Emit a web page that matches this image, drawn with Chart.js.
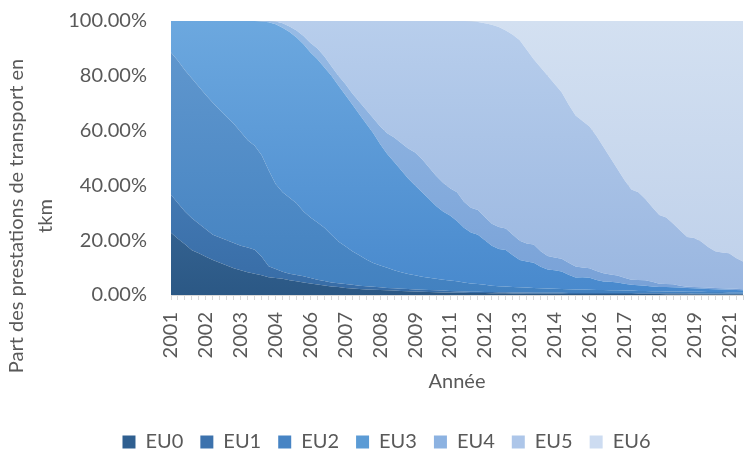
<!DOCTYPE html>
<html lang="fr">
<head>
<meta charset="utf-8">
<title>Part des prestations de transport par norme EU</title>
<script src="https://cdn.jsdelivr.net/npm/chart.js@4/dist/chart.umd.min.js"></script>
<style>
  html, body { margin: 0; padding: 0; background: #fff; }
  #wrap { width: 744px; height: 456px; }
</style>
</head>
<body>
<div id="wrap"><canvas id="chart" width="744" height="456"></canvas></div>
<script>
// 1. données (trimestres 2001 -> 2021, parts en %)
const categories = [
  '2001','2001','2001','2001', '2002','2002','2002','2002', '2003','2003','2003','2003',
  '2004','2004','2004','2004', '2005','2005','2005','2005', '2006','2006','2006','2006',
  '2007','2007','2007','2007', '2008','2008','2008','2008', '2009','2009','2009','2009',
  '2010','2010','2010','2010', '2011','2011','2011','2011', '2012','2012','2012','2012',
  '2013','2013','2013','2013', '2014','2014','2014','2014', '2015','2015','2015','2015',
  '2016','2016','2016','2016', '2017','2017','2017','2017', '2018','2018','2018','2018',
  '2019','2019','2019','2019', '2020','2020','2020','2020', '2021','2021','2021'
];

const seriesNames = ['EU0', 'EU1', 'EU2', 'EU3', 'EU4', 'EU5', 'EU6'];

const eu0 = [
  22.7, 20.5, 18.5, 16.3, 15.2, 14, 12.8, 11.8, 10.8, 9.8,
  9, 8.3, 7.8, 7.2, 6.5, 6.2, 5.9, 5.4, 5, 4.6,
  4.2, 3.8, 3.5, 3.1, 2.9, 2.6, 2.4, 2.2, 2, 1.9,
  1.8, 1.7, 1.6, 1.5, 1.4, 1.3, 1.2, 1.1, 1.0, 0.95,
  0.9, 0.85, 0.8, 0.75, 0.7, 0.7, 0.65, 0.6, 0.6, 0.55,
  0.55, 0.5, 0.5, 0.5, 0.45, 0.45, 0.45, 0.4, 0.4, 0.4,
  0.4, 0.35, 0.35, 0.35, 0.35, 0.35, 0.35, 0.35, 0.35, 0.35,
  0.35, 0.3, 0.3, 0.3, 0.3, 0.3, 0.3, 0.3, 0.3, 0.3,
  0.3, 0.3, 0.3
];
const eu1 = [
  13.9, 13, 12, 11.7, 10.8, 10, 9.2, 9.2, 9.2, 9.2,
  9, 9, 8.7, 6.8, 4, 3.3, 2.6, 2.4, 2.3, 2.2,
  2, 1.8, 1.6, 1.5, 1.4, 1.4, 1.3, 1.2, 1.2, 1.1,
  1, 0.9, 0.9, 0.8, 0.8, 0.7, 0.7, 0.7, 0.7, 0.65,
  0.6, 0.55, 0.5, 0.45, 0.5, 0.4, 0.45, 0.4, 0.4, 0.4,
  0.35, 0.4, 0.35, 0.35, 0.35, 0.35, 0.35, 0.35, 0.35, 0.3,
  0.3, 0.35, 0.35, 0.35, 0.35, 0.35, 0.35, 0.25, 0.25, 0.25,
  0.25, 0.3, 0.3, 0.3, 0.3, 0.2, 0.2, 0.2, 0.2, 0.2,
  0.2, 0.2, 0.2
];
const eu2 = [
  51.9, 52, 51.5, 51, 50, 49, 48.2, 46.5, 45, 43.5,
  41.5, 39.2, 38, 37, 35, 31, 29, 27.7, 26.2, 23.7,
  22.1, 20.9, 19.4, 17.4, 15.2, 13.8, 12.3, 11.1, 9.8, 8.7,
  8, 7.3, 6.5, 6, 5.5, 5.2, 4.8, 4.5, 4.2, 4,
  3.8, 3.6, 3.3, 3, 2.8, 2.6, 2.3, 2.2, 2.1, 1.95,
  1.9, 1.8, 1.75, 1.65, 1.6, 1.5, 1.4, 1.35, 1.25, 1.3,
  1.2, 1.1, 1.1, 1, 1, 0.9, 0.9, 0.9, 0.9, 0.8,
  0.8, 0.7, 0.7, 0.7, 0.6, 0.7, 0.7, 0.6, 0.6, 0.6,
  0.5, 0.5, 0.5
];
const eu3 = [
  11.5, 14.5, 18, 21, 24, 27, 29.8, 32.5, 35, 37.5,
  40.5, 43.5, 45.5, 48.8, 54, 58.3, 60, 60.5, 60.5, 61,
  60.2, 59.5, 58.5, 58, 57, 55.2, 53.5, 51.5, 49.5, 47.3,
  44.2, 41.6, 39.5, 37.2, 34.8, 32.8, 30.8, 28.7, 26.6, 24.9,
  23.7, 22, 19.9, 18.6, 18, 16.3, 14.6, 13.6, 13.3, 11.6,
  10, 9.5, 9.2, 7.8, 6.9, 6.7, 6.4, 5.3, 4.4, 4.5,
  4.4, 3.7, 3.1, 3.1, 2.9, 2.5, 2.1, 2.1, 1.9, 1.7,
  1.5, 1.6, 1.5, 1.4, 1.4, 1.3, 1.2, 1.1, 1, 0.9,
  0.9, 0.8, 0.7
];
const eu4 = [
  0, 0, 0, 0, 0, 0, 0, 0, 0, 0,
  0, 0, 0, 0.2, 0.5, 1, 1.7, 2, 2.5, 3,
  3.5, 4, 4, 3.5, 3.5, 4, 4, 4.5, 5, 5.5,
  6.5, 7.5, 9, 10, 11, 12, 12, 11.5, 11, 10.5,
  10, 10.5, 9.5, 9, 9, 8.5, 8, 8, 7.9, 7.5,
  7, 6.6, 6.6, 5.7, 4.9, 4.7, 4.6, 4.4, 4, 3.5,
  3.5, 3.3, 3, 2.7, 2.5, 2.2, 1.9, 1.9, 2, 1.7,
  1.2, 1.1, 1.1, 0.7, 0.4, 0.4, 0.4, 0.5, 0.5, 0.5,
  0.5, 0.5, 0.4
];
const eu5 = [
  0, 0, 0, 0, 0, 0, 0, 0, 0, 0,
  0, 0, 0, 0, 0, 0.2, 0.8, 2, 3.5, 5.5,
  8, 10, 13, 16.5, 20, 23, 26.5, 29.5, 32.5, 35.5,
  38.5, 41, 42.5, 44.5, 46.5, 48, 50.5, 53.5, 56.5, 59,
  61, 62.5, 66, 68.1, 68.6, 70.7, 72.6, 73, 72.2, 73,
  73.2, 70.7, 67.6, 67, 65.8, 63.3, 60.8, 57.7, 55.1, 53.5,
  51.7, 49.2, 46.1, 42.5, 38.9, 35.7, 32.9, 32, 29.6, 27.2,
  25.1, 24.3, 22.1, 20.1, 18.2, 17.9, 16.7, 14.8, 13.4, 13,
  12.8, 11.2, 10.1
];
const eu6 = [
  0, 0, 0, 0, 0, 0, 0, 0, 0, 0,
  0, 0, 0, 0, 0, 0, 0, 0, 0, 0,
  0, 0, 0, 0, 0, 0, 0, 0, 0, 0,
  0, 0, 0, 0, 0, 0, 0, 0, 0, 0,
  0, 0, 0, 0.1, 0.4, 0.8, 1.4, 2.2, 3.5, 5,
  7, 10.5, 14, 17, 20, 23, 26, 30.5, 34.5, 36.5,
  38.5, 42, 46, 50, 54, 58, 61.5, 62.5, 65, 68,
  70.8, 71.7, 74, 76.5, 78.8, 79.2, 80.5, 82.5, 84, 84.5,
  84.8, 86.5, 87.8
];

const yTicks = [0, 20, 40, 60, 80, 100];
const yTitleLines = ['Part des prestations de transport en', 'tkm'];
const xTitle = 'Année';

// 2. styles
const legendColors = ['#2f5f90', '#3c72ad', '#4784c4', '#5b9bd5', '#8cb2e1', '#adc6e9', '#cddcf1'];
const topColors    = ['#4f80b3', '#568dc6', '#6399cf', '#6ca8df', '#97bbe5', '#b8ceec', '#d3e0f1'];
const bottomColors = ['#2b5885', '#376ca6', '#4281c0', '#4889cd', '#78a1d7', '#99b6e0', '#bed0ea'];
const textColor = '#595959';
const FONT = 'Lato';
const labelEvery = 5;

function areaFill(i) {
  return (ctx) => {
    const area = ctx.chart.chartArea;
    if (!area) return legendColors[i];
    const g = ctx.chart.ctx.createLinearGradient(0, area.top, 0, area.bottom);
    g.addColorStop(0, topColors[i]);
    g.addColorStop(1, bottomColors[i]);
    return g;
  };
}

const seriesValues = [eu0, eu1, eu2, eu3, eu4, eu5, eu6];

const datasets = seriesNames.map((name, i) => ({
  label: name,
  data: seriesValues[i],
  backgroundColor: areaFill(i),
  borderWidth: 0,
  pointRadius: 0,
  tension: 0,
  fill: i === 0 ? 'origin' : '-1'
}));

// titre de l'axe vertical (deux lignes, tourné)
const yTitlePlugin = {
  id: 'yTitle',
  afterDraw(chart) {
    const c = chart.ctx;
    c.save();
    c.fillStyle = textColor;
    c.font = '20px ' + FONT;
    c.textAlign = 'center';
    c.textBaseline = 'middle';
    yTitleLines.forEach((line, i) => {
      c.save();
      c.translate(17 + i * 29, 216);
      c.rotate(-Math.PI / 2);
      c.fillText(line, 0, 0);
      c.restore();
    });
    c.restore();
  }
};

new Chart(document.getElementById('chart'), {
  type: 'line',
  data: { labels: categories, datasets: datasets },
  options: {
    responsive: false,
    devicePixelRatio: 1,
    animation: false,
    layout: { padding: { top: 21, right: 1, left: 30, bottom: -6 } },
    scales: {
      x: {
        type: 'category',
        offset: false,
        grid: { display: true, drawOnChartArea: false, tickLength: 5, color: '#d9d9d9' },
        border: { color: '#d9d9d9' },
        ticks: {
          autoSkip: false,
          minRotation: 90,
          maxRotation: 90,
          padding: 12,
          color: textColor,
          font: { family: FONT, size: 20 },
          callback: (value, index) => index % labelEvery === 0 ? categories[index] : ''
        },
        title: {
          display: true,
          text: xTitle,
          color: textColor,
          font: { family: FONT, size: 20 },
          padding: { top: 0, bottom: 21 }
        },
        afterFit(scale) {
          scale.height = 120;
          scale.paddingLeft = 0;
          scale.paddingRight = 0;
        }
      },
      y: {
        stacked: true,
        min: 0,
        max: 100,
        grid: { color: '#d9d9d9', drawTicks: false },
        border: { display: false },
        afterBuildTicks(scale) { scale.ticks = yTicks.map(v => ({ value: v })); },
        ticks: {
          padding: 24,
          color: textColor,
          font: { family: FONT, size: 20 },
          callback: (v) => v.toFixed(2) + '%'
        },
        afterFit(scale) {
          scale.width = 141;
          scale.paddingTop = 0;
          scale.paddingBottom = 0;
        }
      }
    },
    plugins: {
      tooltip: { enabled: false },
      legend: {
        position: 'bottom',
        labels: {
          boxWidth: 13,
          boxHeight: 13,
          padding: 17,
          color: textColor,
          font: { family: FONT, size: 20 },
          generateLabels(chart) {
            const items = Chart.defaults.plugins.legend.labels.generateLabels(chart);
            items.forEach(it => {
              it.fillStyle = legendColors[it.datasetIndex];
              it.strokeStyle = legendColors[it.datasetIndex];
              it.lineWidth = 0;
            });
            return items;
          }
        }
      }
    }
  },
  plugins: [yTitlePlugin]
});
</script>
</body>
</html>
